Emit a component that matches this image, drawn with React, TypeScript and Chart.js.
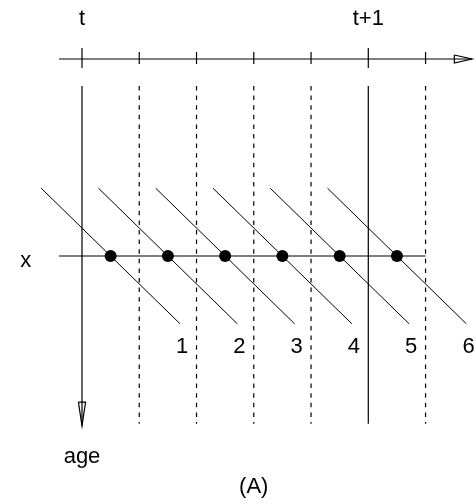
import React, { useEffect, useRef } from 'react';
import { Chart, registerables } from 'chart.js';

Chart.register(...registerables);

// ---- data ----
const periodTimes = [0, 0.2, 0.4, 0.6, 0.8, 1.0, 1.2];
const periodSolid = [true, false, false, false, false, true, false];
const yearTimes = [0, 1];
const yearLabels = ['t', 't+1'];
const cohortTimes = [0.1, 0.3, 0.5, 0.7, 0.9, 1.1];
const cohortLabels = ['1', '2', '3', '4', '5', '6'];
const ageValue = 0;
const ageLabel = 'x';
const timeAxisTitle = '';
const ageAxisTitle = 'age';
const panelLabel = '(A)';

// ---- layout (data units) ----
const TIME_MIN = -0.2864;
const TIME_MAX = 1.3762;
const AGE_MIN = -0.9159;
const AGE_MAX = 0.8873;
const AXIS_AGE = -0.7048;
const AXIS_START = -0.0803;
const AXIS_END = 1.3622;
const AXIS_ARROW_BASE = 1.3005;
const AXIS_ARROW_HALF = 0.0143;
const TICK_SHORT = [-0.7299, -0.6869];
const TICK_LONG = [-0.7442, -0.6726];
const GRID_TOP = -0.6082;
const GRID_BOTTOM = 0.6;
const AGE_ARROW_TIP = 0.608;
const AGE_ARROW_BASE = 0.523;
const AGE_ARROW_HALF = 0.0125;
const XLINE_END = 1.2;
const COHORT_HALF = 0.2425;
const FONT = "22px 'Liberation Sans', Arial, sans-serif";

export default function App() {
  const ref = useRef<HTMLCanvasElement | null>(null);

  useEffect(() => {
    if (!ref.current) return;
    const datasets: any[] = [];
    const line = (pts: { x: number; y: number }[], dash: number[] = [], width = 1.2) => {
      datasets.push({
        type: 'line',
        data: pts,
        borderColor: '#000',
        backgroundColor: '#000',
        borderWidth: width,
        borderDash: dash,
        pointRadius: 0,
        fill: false,
        tension: 0,
        clip: false,
      });
    };

    // time axis
    line([{ x: AXIS_START, y: AXIS_AGE }, { x: AXIS_END, y: AXIS_AGE }]);
    line([
      { x: AXIS_ARROW_BASE, y: AXIS_AGE - AXIS_ARROW_HALF },
      { x: AXIS_END, y: AXIS_AGE },
      { x: AXIS_ARROW_BASE, y: AXIS_AGE + AXIS_ARROW_HALF },
      { x: AXIS_ARROW_BASE, y: AXIS_AGE - AXIS_ARROW_HALF },
    ]);
    // ticks and period lines
    periodTimes.forEach((t, i) => {
      const tk = periodSolid[i] ? TICK_LONG : TICK_SHORT;
      line([{ x: t, y: tk[0] }, { x: t, y: tk[1] }]);
      if (i === 0) {
        line([{ x: t, y: GRID_TOP }, { x: t, y: AGE_ARROW_TIP }]);
      } else {
        line([{ x: t, y: GRID_TOP }, { x: t, y: GRID_BOTTOM }], periodSolid[i] ? [] : [4.5, 5.1]);
      }
    });
    // age arrow
    line([
      { x: periodTimes[0] - AGE_ARROW_HALF, y: AGE_ARROW_BASE },
      { x: periodTimes[0], y: AGE_ARROW_TIP },
      { x: periodTimes[0] + AGE_ARROW_HALF, y: AGE_ARROW_BASE },
      { x: periodTimes[0] - AGE_ARROW_HALF, y: AGE_ARROW_BASE },
    ]);
    // age x line
    line([{ x: AXIS_START, y: ageValue }, { x: XLINE_END, y: ageValue }]);
    // cohort lines
    cohortTimes.forEach((t) => {
      line([
        { x: t - COHORT_HALF, y: ageValue - COHORT_HALF },
        { x: t + COHORT_HALF, y: ageValue + COHORT_HALF },
      ], [], 1);
    });
    // dots
    datasets.push({
      type: 'scatter',
      data: cohortTimes.map((t) => ({ x: t, y: ageValue })),
      backgroundColor: '#000',
      borderColor: '#000',
      borderWidth: 0,
      pointRadius: 6,
      clip: false,
    });

    const textPlugin = {
      id: 'labels',
      afterDatasetsDraw(chart: any) {
        const { ctx, scales } = chart;
        const X = (v: number) => scales.x.getPixelForValue(v);
        const Y = (v: number) => scales.y.getPixelForValue(v);
        ctx.save();
        ctx.fillStyle = '#000';
        ctx.font = FONT;
        ctx.textAlign = 'center';
        ctx.textBaseline = 'alphabetic';
        yearLabels.forEach((l, i) => ctx.fillText(l, X(yearTimes[i]), Y(-0.8247)));
        cohortLabels.forEach((l, i) => ctx.fillText(l, X(cohortTimes[i] + 0.25), Y(0.346)));
        ctx.fillText(ageLabel, X(-0.1963), Y(ageValue + 0.0383));
        ctx.fillText(ageAxisTitle, X(periodTimes[0]), Y(0.7417));
        ctx.fillText(panelLabel, X(0.6), Y(0.848));
        if (timeAxisTitle) ctx.fillText(timeAxisTitle, X(AXIS_END), Y(AXIS_AGE));
        ctx.restore();
      },
    };

    const chart = new Chart(ref.current, {
      type: 'scatter',
      data: { datasets },
      options: {
        animation: false,
        responsive: false,
        devicePixelRatio: 1,
        events: [],
        layout: { padding: 0, autoPadding: false },
        plugins: { legend: { display: false }, tooltip: { enabled: false } },
        scales: {
          x: { type: 'linear', min: TIME_MIN, max: TIME_MAX, display: false },
          y: { type: 'linear', min: AGE_MIN, max: AGE_MAX, reverse: true, display: false },
        },
      },
      plugins: [textPlugin],
    } as any);
    return () => chart.destroy();
  }, []);

  return (
    <div style={{ position: 'fixed', left: 0, top: 0, width: 476, height: 504, background: '#fff' }}>
      <canvas ref={ref} width={476} height={504} style={{ display: 'block' }} />
    </div>
  );
}
